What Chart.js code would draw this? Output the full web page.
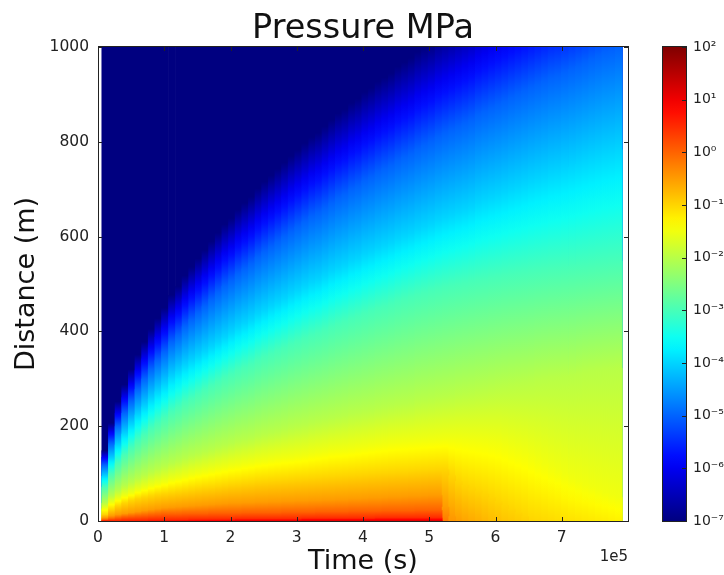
<!DOCTYPE html>
<html>
<head>
<meta charset="utf-8">
<title>Pressure MPa</title>
<script src="https://cdn.jsdelivr.net/npm/chart.js@4"></script>
<style>
  html, body { margin: 0; padding: 0; background: #fff; }
  canvas { position: absolute; top: 0; }
</style>
</head>
<body>
<canvas id="field" width="724" height="575" style="left:0"></canvas>
<canvas id="colorbar" width="84" height="575" style="left:640px"></canvas>
<script>
// time of each column, in units of 1e5 s
const timeColumns = [
  0.11,0.21,0.31,0.41,0.51,0.61,0.71,0.81,0.91,1.01,
  1.115,1.22,1.32,1.42,1.52,1.62,1.72,1.82,1.92,2.02,
  2.12,2.22,2.32,2.42,2.52,2.62,2.72,2.82,2.92,3.02,
  3.125,3.23,3.33,3.43,3.53,3.63,3.73,3.83,3.93,4.03,
  4.13,4.23,4.33,4.43,4.53,4.63,4.73,4.83,4.93,5.03,
  5.135,5.24,5.34,5.44,5.54,5.64,5.74,5.84,5.94,6.04,
  6.14,6.24,6.34,6.44,6.54,6.64,6.74,6.84,6.94,7.04,
  7.145,7.25,7.35,7.45,7.55,7.65,7.75,7.85
];

// log10 of pressure at distance 0
const surfaceLog = [
  0.3,0.45,0.55,0.6,0.65,0.7,0.72,0.75,0.78,0.8,
  0.85,0.88,0.9,0.92,0.95,0.97,1,1,1.02,1.05,
  1.05,1.07,1.08,1.08,1.1,1.1,1.1,1.12,1.12,1.13,
  1.13,1.14,1.15,1.15,1.15,1.16,1.17,1.17,1.18,1.18,
  1.19,1.2,1.2,1.2,1.2,1.21,1.21,1.22,1.22,1.22,
  1.23,-0.2,-0.45,-0.52,-0.58,-0.63,-0.68,-0.73,-0.78,-0.82,
  -0.86,-0.89,-0.92,-0.96,-1,-1.02,-1.04,-1.06,-1.08,-1.1,
  -1.12,-1.14,-1.16,-1.18,-1.2,-1.22,-1.24,-1.26
];

// distance (m) at which the pressure has dropped to each level, per column
const distP1 = [
  0,0,0,0,0,0,0,0,0,0,
  0,0,0,0,0,0,0,0,0,0,
  1,1,1,1,1,1,1,1,1,1,
  2,2,2,2,2,2,2,2,2,2,
  2,2,2,2,2,2,2,2,2,2,
  2,0,0,0,0,0,0,0,0,0,
  0,0,0,0,0,0,0,0,0,0,
  0,0,0,0,0,0,0,0
];
const distP05 = [
  1,1,1,2,2,2,2,3,3,3,
  3,3,3,4,4,4,4,4,4,4,
  5,5,5,5,5,5,5,5,5,5,
  6,6,6,6,6,6,6,6,6,6,
  6,7,7,7,7,7,7,7,7,7,
  7,0,0,0,0,0,0,0,0,0,
  0,0,0,0,0,0,0,0,0,0,
  0,0,0,0,0,0,0,0
];
const distP0 = [
  3,5,7,9,10,11,12,13,14,15,
  15,15,16,16,16,16,17,17,17,17,
  17,18,18,18,18,18,18,19,19,19,
  19,19,20,20,20,20,20,21,21,21,
  21,21,22,22,22,22,22,23,23,23,
  23,0,0,0,0,0,0,0,0,0,
  0,0,0,0,0,0,0,0,0,0,
  0,0,0,0,0,0,0,0
];
const distM05 = [
  7,11,14,16,18,20,22,24,26,28,
  29,30,31,32,33,34,35,36,37,38,
  38,39,39,40,40,41,41,42,42,43,
  43,44,44,45,45,46,46,47,47,48,
  49,49,50,51,51,52,53,53,54,55,
  55,30,10,0,0,0,0,0,0,0,
  0,0,0,0,0,0,0,0,0,0,
  0,0,0,0,0,0,0,0
];
const distM1 = [
  14,24,32,38,43,47,50,53,56,58,
  60,62,64,66,68,70,71,73,75,77,
  78,80,81,83,84,85,86,87,88,89,
  90,91,92,93,94,95,96,97,98,99,
  100,101,102,103,104,104,105,106,107,108,
  109,109,96,84,76,70,64,58,50,42,
  34,26,18,10,0,0,0,0,0,0,
  0,0,0,0,0,0,0,0
];
const distM15 = [
  26,38,46,53,58,64,69,74,78,82,
  87,90,94,98,101,104,107,110,113,116,
  118,121,123,126,128,130,132,134,135,137,
  139,142,144,146,149,150,151,153,155,157,
  159,161,163,165,166,167,168,169,170,171,
  172,173,173,173,172,171,170,169,167,165,
  160,155,150,145,138,130,122,114,106,98,
  90,84,78,72,66,60,55,50
];
const distM2 = [
  38,53,64,74,82,90,97,104,110,116,
  122,127,133,138,142,147,151,156,160,164,
  169,172,175,180,184,187,190,194,198,201,
  204,208,211,214,217,220,223,227,229,232,
  234,238,241,243,246,248,250,255,257,259,
  262,264,266,270,272,274,277,279,282,285,
  287,289,291,293,295,299,301,303,304,306,
  308,311,314,316,318,320,321,323
];
const distM3 = [
  72,100,122,140,155,170,183,196,207,218,
  231,240,251,259,268,277,286,294,303,310,
  318,325,331,340,347,353,360,366,373,379,
  386,392,397,403,410,416,421,427,432,438,
  443,449,453,458,464,469,473,478,482,486,
  490,494,497,500,503,506,509,511,514,516,
  519,521,523,525,527,529,531,533,534,536,
  538,540,541,543,545,546,548,549
];
const distM4 = [
  95,132,161,184,204,224,241,258,273,287,
  304,316,328,338,348,358,368,378,388,398,
  409,417,426,437,445,454,462,470,479,487,
  496,504,509,518,527,534,540,549,554,563,
  568,576,582,588,596,602,607,615,621,627,
  635,641,646,652,657,663,672,678,683,688,
  694,700,705,711,717,722,727,733,736,742,
  747,753,759,764,769,775,778,784
];
const distM5 = [
  118,164,200,228,253,278,300,321,339,357,
  378,393,411,425,439,453,468,482,496,507,
  521,532,543,557,568,578,589,600,610,621,
  632,643,650,660,671,682,689,700,707,718,
  725,735,743,750,760,768,775,785,793,800,
  810,818,825,832,839,846,857,864,871,878,
  885,893,900,907,914,921,928,935,939,946,
  953,960,967,975,982,989,992,1000
];
const distM6 = [
  135,188,228,261,290,318,343,367,388,408,
  432,449,469,486,502,518,534,551,567,579,
  596,608,620,636,649,661,673,685,698,710,
  722,734,743,755,767,779,787,800,808,820,
  828,840,849,857,869,877,885,898,906,914,
  926,934,942,951,959,967,979,987,996,1004,
  1012,1020,1028,1036,1044,1053,1061,1069,1073,1081,
  1089,1098,1106,1114,1122,1130,1134,1142
];
const distM7 = [
  149,207,252,288,320,351,378,405,428,450,
  477,495,518,536,554,572,590,608,626,639,
  657,671,684,702,716,729,743,756,770,783,
  797,810,819,833,846,860,869,882,891,905,
  914,927,936,945,959,968,977,990,999,1008,
  1022,1031,1040,1049,1058,1067,1080,1089,1098,1107,
  1116,1125,1134,1143,1152,1161,1170,1179,1184,1193,
  1202,1211,1220,1229,1238,1247,1251,1260
];

const pressureLevels = [1, 0.5, 0, -0.5, -1, -1.5, -2, -3, -4, -5, -6, -7];
const levelDistances = [distP1, distP05, distP0, distM05, distM1, distM15, distM2, distM3, distM4, distM5, distM6, distM7];

const xTicksMax = 7.99;
const yTop = 1000;
const colorbarDecades = [-6, -5, -4, -3, -2, -1, 0, 1, 2];
const supers = { "-": "⁻", "0": "⁰", "1": "¹", "2": "²", "3": "³", "4": "⁴", "5": "⁵", "6": "⁶", "7": "⁷" };

const logMin = -7;
const logMax = 2;

// matplotlib's old default colormap
function jet(logP) {
  const v = Math.min(1, Math.max(0, (logP - logMin) / (logMax - logMin)));
  const ch = (x) => Math.round(255 * Math.min(1, Math.max(0, x)));
  return `rgb(${ch(Math.min(4 * v - 1.5, -4 * v + 4.5))},${ch(Math.min(4 * v - 0.5, -4 * v + 3.5))},${ch(Math.min(4 * v + 0.5, -4 * v + 2.5))})`;
}

// vertical gradient between two pixel rows, coloured from lowLog to highLog
function bandGradient(c, yLow, yHigh, lowLog, highLog) {
  if (!isFinite(yLow) || !isFinite(yHigh)) return jet(highLog);
  const grad = c.createLinearGradient(0, yLow, 0, yHigh);
  for (let s = 0; s <= 4; s++) {
    grad.addColorStop(s / 4, jet(lowLog + (highLog - lowLog) * s / 4));
  }
  return grad;
}

// inward tick marks and the frame round the plot
const frame = {
  id: "frame",
  afterDraw(chart, args, opts) {
    const { ctx, chartArea: a, scales } = chart;
    ctx.save();
    ctx.strokeStyle = "#222";
    ctx.lineWidth = 1;
    ctx.beginPath();
    scales.y.ticks.forEach((t) => {
      const y = Math.round(scales.y.getPixelForValue(t.value)) + 0.5;
      if (opts.bothSides) { ctx.moveTo(a.left, y); ctx.lineTo(a.left + 4, y); }
      ctx.moveTo(a.right, y);
      ctx.lineTo(a.right - 4, y);
    });
    if (opts.xTicks) {
      scales.x.ticks.forEach((t) => {
        const x = Math.round(scales.x.getPixelForValue(t.value)) + 0.5;
        ctx.moveTo(x, a.bottom);
        ctx.lineTo(x, a.bottom - 4);
        ctx.moveTo(x, a.top);
        ctx.lineTo(x, a.top + 4);
      });
    }
    ctx.stroke();
    ctx.strokeRect(Math.round(a.left) + 0.5, Math.round(a.top) - 0.5, Math.round(a.right - a.left), Math.round(a.bottom - a.top) + 1);
    if (opts.offsetText) {
      ctx.fillStyle = "#222";
      ctx.font = "15px 'DejaVu Sans'";
      ctx.textAlign = "right";
      ctx.textBaseline = "middle";
      ctx.fillText(opts.offsetText, a.right, 557);
    }
    ctx.restore();
  }
};

const fieldDatasets = pressureLevels.map((level, k) => ({
  label: "P = 10^" + level,
  data: levelDistances[k],
  backgroundColor(ctx) {
    const i = ctx.dataIndex;
    if (i === undefined) return jet(level);
    const y = ctx.chart.scales.y;
    const lower = k > 0 ? levelDistances[k - 1][i] : 0;
    const lowLog = lower > 0 ? pressureLevels[k - 1] : surfaceLog[i];
    const top = levelDistances[k][i];
    if (top <= lower) return jet(level);
    return bandGradient(ctx.chart.ctx, y.getPixelForValue(lower), y.getPixelForValue(top), lowLog, level);
  }
}));

// everything above the lowest level stays at the bottom of the colour range
fieldDatasets.push({
  label: "below range",
  data: timeColumns.map(() => yTop),
  backgroundColor: jet(logMin)
});

new Chart(document.getElementById("field"), {
  type: "bar",
  data: { labels: timeColumns.map((t) => t * 1e5), datasets: fieldDatasets },
  options: {
    responsive: false,
    animation: false,
    events: [],
    layout: { padding: { right: 96 } },
    datasets: { bar: { grouped: false, barPercentage: 1.15, categoryPercentage: 1, borderWidth: 0 } },
    plugins: {
      legend: { display: false },
      tooltip: { enabled: false },
      title: {
        display: true,
        text: "Pressure MPa",
        fullSize: false,
        color: "#111",
        font: { family: "'DejaVu Sans'", size: 33.5, weight: "normal", lineHeight: "36px" },
        padding: { top: 11, bottom: 0 }
      },
      frame: { bothSides: true, xTicks: true, offsetText: "1e5" }
    },
    scales: {
      x: {
        type: "linear",
        bounds: "data",
        offset: false,
        min: 0,
        max: xTicksMax * 1e5,
        afterFit(s) { s.height = 54; },
        afterBuildTicks(s) { s.ticks = s.ticks.filter((t) => t.value < xTicksMax * 1e5); },
        grid: { display: false, drawTicks: false },
        border: { display: false },
        ticks: {
          stepSize: 1e5,
          includeBounds: false,
          autoSkip: false,
          maxRotation: 0,
          padding: 8,
          color: "#222",
          font: { family: "'DejaVu Sans'", size: 15.5 },
          callback: (v) => String(Math.round(v / 1e5))
        },
        title: {
          display: true,
          text: "Time (s)",
          color: "#111",
          font: { family: "'DejaVu Sans'", size: 27, lineHeight: 1 },
          padding: { top: 0, bottom: 0 }
        }
      },
      y: {
        min: 0,
        max: yTop,
        afterFit(s) { s.width = 98; },
        grid: { display: false, drawTicks: false },
        border: { display: false },
        ticks: {
          stepSize: 200,
          padding: 9,
          color: "#222",
          font: { family: "'DejaVu Sans'", size: 15.5 },
          callback: (v) => String(v)
        },
        title: {
          display: true,
          text: "Distance (m)",
          color: "#111",
          font: { family: "'DejaVu Sans'", size: 27 },
          padding: { top: 11, bottom: 0 }
        }
      }
    }
  },
  plugins: [frame]
});

new Chart(document.getElementById("colorbar"), {
  type: "bar",
  data: {
    labels: ["scale"],
    datasets: colorbarDecades.map((d) => ({
      label: "10^" + d,
      data: [[logMin, d]],
      backgroundColor(ctx) {
        const y = ctx.chart.scales.y;
        return bandGradient(ctx.chart.ctx, y.getPixelForValue(d - 1), y.getPixelForValue(d), d - 1, d);
      }
    }))
  },
  options: {
    responsive: false,
    animation: false,
    events: [],
    layout: { padding: { left: 22, top: 47, bottom: 54 } },
    datasets: { bar: { grouped: false, barPercentage: 1, categoryPercentage: 1, borderWidth: 0 } },
    plugins: {
      legend: { display: false },
      tooltip: { enabled: false },
      frame: { bothSides: false, xTicks: false }
    },
    scales: {
      x: { display: false },
      y: {
        position: "right",
        min: logMin,
        max: logMax,
        afterFit(s) { s.width = 38; },
        grid: { display: false, drawTicks: false },
        border: { display: false },
        ticks: {
          stepSize: 1,
          padding: 7,
          color: "#222",
          font: { family: "'DejaVu Sans'", size: 14 },
          callback: (v) => "10" + String(v).split("").map((c) => supers[c]).join("")
        }
      }
    }
  },
  plugins: [frame]
});
</script>
</body>
</html>
